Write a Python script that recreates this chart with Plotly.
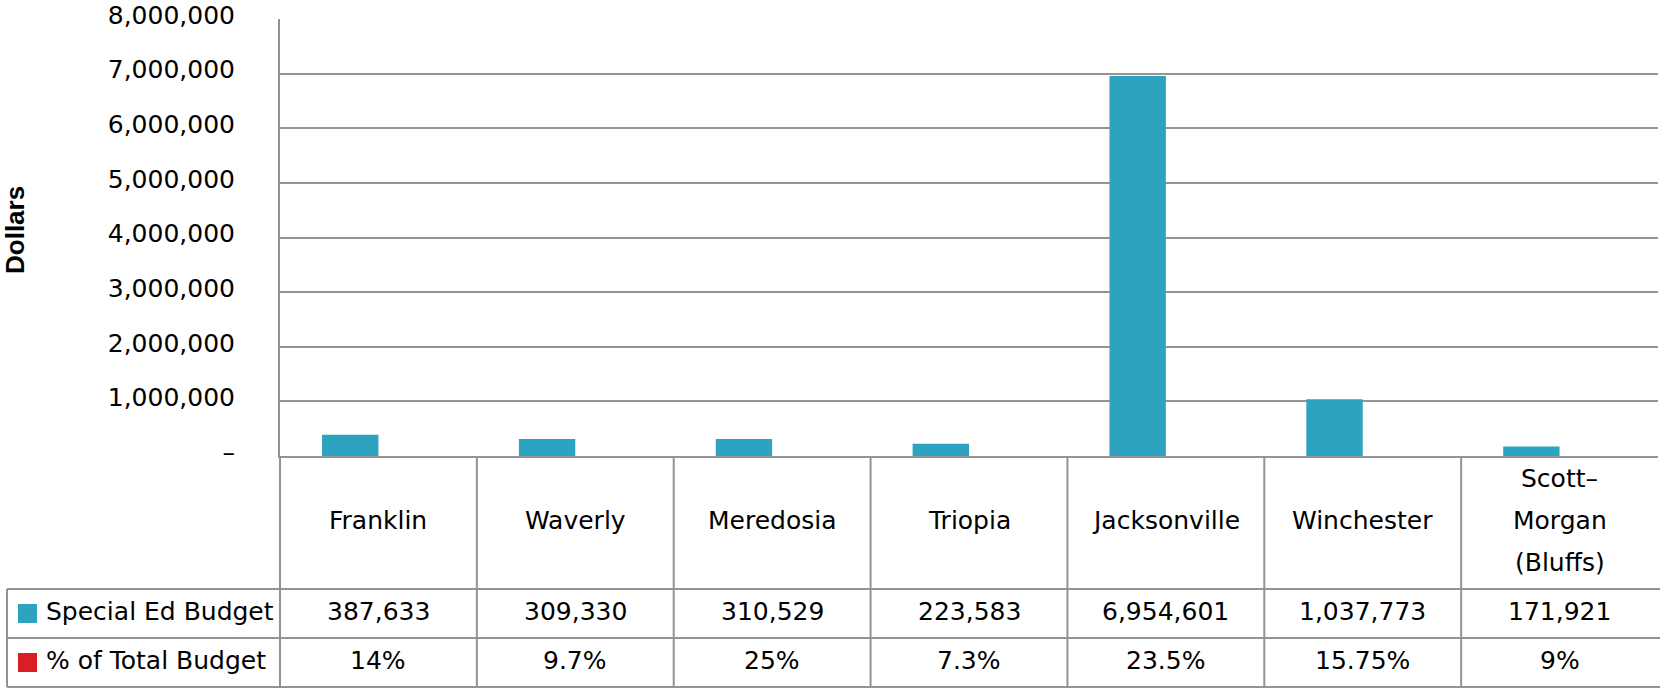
import plotly.graph_objects as go

# District budget data
districts = ["Franklin", "Waverly", "Meredosia", "Triopia", "Jacksonville",
             "Winchester", "Scott-Morgan (Bluffs)"]
header_labels = ["Franklin", "Waverly", "Meredosia", "Triopia", "Jacksonville",
                 "Winchester", "Scott–<br>Morgan<br>(Bluffs)"]
special_ed_budget = [387633, 309330, 310529, 223583, 6954601, 1037773, 171921]
pct_of_total = [14, 9.7, 25, 7.3, 23.5, 15.75, 9]

y_tickvals = [0, 1000000, 2000000, 3000000, 4000000, 5000000, 6000000, 7000000, 8000000]
y_ticktext = ["–", "1,000,000", "2,000,000", "3,000,000", "4,000,000",
              "5,000,000", "6,000,000", "7,000,000", "8,000,000"]

series_names = ["Special Ed Budget", "% of Total Budget"]
BLUE = "#2ea3bf"
RED = "#d91e28"
GRID = "#939393"
FONT = "DejaVu Sans"
FS = 25

W, H = 1660, 690
L, R, T, B = 280, 2, 19, 234
PW, PH = W - L - R, H - T - B
Y0 = H - B  # pixel row of the zero line


def px_x(px):
    return (px - L) / PW


def px_y(py):
    return (Y0 - py) / PH


fig = go.Figure()
fig.add_trace(go.Bar(x=districts, y=special_ed_budget, name=series_names[0],
                     marker=dict(color=BLUE, line=dict(width=0)), offsetgroup="a"))
fig.add_trace(go.Bar(x=districts, y=[p / 100 for p in pct_of_total], name=series_names[1],
                     marker=dict(color=RED, line=dict(width=0)), offsetgroup="b"))

shapes = []
line = dict(color=GRID, width=2)
n = len(districts)
# horizontal rules of the data table
for py in (589, 638, 687):
    shapes.append(dict(type="line", xref="paper", yref="paper",
                       x0=px_x(7), x1=px_x(W), y0=px_y(py), y1=px_y(py), line=line))
# left edge below the axis, and legend cell edge
shapes.append(dict(type="line", xref="paper", yref="paper",
                   x0=0, x1=0, y0=0, y1=px_y(687), line=line))
shapes.append(dict(type="line", xref="paper", yref="paper",
                   x0=px_x(7), x1=px_x(7), y0=px_y(589), y1=px_y(687), line=line))
# column separators between categories
for i in range(1, n):
    shapes.append(dict(type="line", xref="paper", yref="paper",
                       x0=i / n, x1=i / n, y0=0, y1=px_y(687), line=line))
# legend keys
for color, (top, bot) in zip([BLUE, RED], [(604, 623), (653, 672)]):
    shapes.append(dict(type="rect", xref="paper", yref="paper",
                       x0=px_x(18), x1=px_x(37), y0=px_y(bot), y1=px_y(top),
                       fillcolor=color, line=dict(width=0)))

annotations = []
font = dict(family=FONT, size=FS, color="black")
# category header row
for d, lab in zip(districts, header_labels):
    parts = lab.split("<br>")
    k = len(parts)
    for j, part in enumerate(parts):
        annotations.append(dict(x=d, xref="x", y=px_y(520), yref="paper",
                                text=part, showarrow=False, font=font,
                                yanchor="middle", yshift=(k - 1) / 2 * 42 - j * 42))
# value rows
for d, v, p in zip(districts, special_ed_budget, pct_of_total):
    annotations.append(dict(x=d, xref="x", y=px_y(611), yref="paper", text=f"{v:,}",
                            showarrow=False, font=font, yanchor="middle"))
    annotations.append(dict(x=d, xref="x", y=px_y(660), yref="paper", text=f"{p:g}%",
                            showarrow=False, font=font, yanchor="middle"))
# series names
for name, py in zip(series_names, (611, 660)):
    annotations.append(dict(x=px_x(44), xref="paper", y=px_y(py), yref="paper", text=name,
                            showarrow=False, font=font, xanchor="left", yanchor="middle"))
# axis title
annotations.append(dict(x=px_x(15), xref="paper", y=px_y(230), yref="paper", text="<b>Dollars</b>",
                        textangle=-90, showarrow=False,
                        font=dict(family="Liberation Sans Narrow, Arial Narrow, Liberation Sans",
                                  size=26, color="black"),
                        xanchor="center", yanchor="middle"))

fig.update_layout(
    width=W, height=H,
    margin=dict(l=L, r=R, t=T, b=B, autoexpand=False),
    paper_bgcolor="white", plot_bgcolor="white",
    barmode="group", bargap=0.427, bargroupgap=0,
    showlegend=False,
    font=font,
    shapes=shapes, annotations=annotations,
    xaxis=dict(showticklabels=False, ticks="", showgrid=False, showline=True,
               linecolor=GRID, linewidth=2, range=[-0.5, n - 0.5], fixedrange=True),
    yaxis=dict(range=[0, 8000000], tickvals=y_tickvals, ticktext=y_ticktext,
               showgrid=True, gridcolor=GRID, gridwidth=2, zeroline=False,
               showline=True, linecolor=GRID, linewidth=2, ticks="",
               ticklabelstandoff=38, ticklabelshift=-4,
               tickfont=dict(family=FONT, size=FS, color="black"), fixedrange=True),
)

fig.write_html("out.html")
